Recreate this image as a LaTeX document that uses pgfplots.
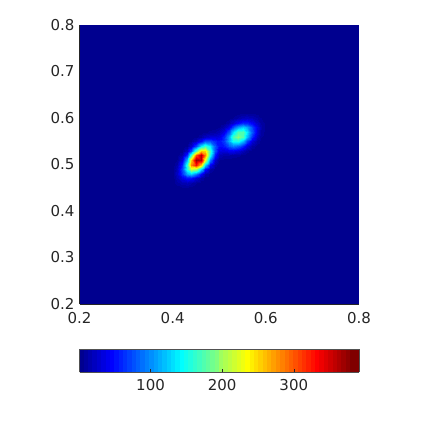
\documentclass[border=0pt]{standalone}
\usepackage{pgfplots}
\pgfplotsset{compat=1.18}
\usepackage{fontspec}
\setmainfont{DejaVu Sans}
\definecolor{axgray}{RGB}{38,38,38}
\pgfplotsset{colormap={mjet}{
rgb=(0,0,0.5625) rgb=(0,0,0.625) rgb=(0,0,0.6875) rgb=(0,0,0.75) rgb=(0,0,0.8125) rgb=(0,0,0.875) rgb=(0,0,0.9375) rgb=(0,0,1)
rgb=(0,0.0625,1) rgb=(0,0.125,1) rgb=(0,0.1875,1) rgb=(0,0.25,1) rgb=(0,0.3125,1) rgb=(0,0.375,1) rgb=(0,0.4375,1) rgb=(0,0.5,1)
rgb=(0,0.5625,1) rgb=(0,0.625,1) rgb=(0,0.6875,1) rgb=(0,0.75,1) rgb=(0,0.8125,1) rgb=(0,0.875,1) rgb=(0,0.9375,1) rgb=(0,1,1)
rgb=(0.0625,1,0.9375) rgb=(0.125,1,0.875) rgb=(0.1875,1,0.8125) rgb=(0.25,1,0.75) rgb=(0.3125,1,0.6875) rgb=(0.375,1,0.625) rgb=(0.4375,1,0.5625) rgb=(0.5,1,0.5)
rgb=(0.5625,1,0.4375) rgb=(0.625,1,0.375) rgb=(0.6875,1,0.3125) rgb=(0.75,1,0.25) rgb=(0.8125,1,0.1875) rgb=(0.875,1,0.125) rgb=(0.9375,1,0.0625) rgb=(1,1,0)
rgb=(1,0.9375,0) rgb=(1,0.875,0) rgb=(1,0.8125,0) rgb=(1,0.75,0) rgb=(1,0.6875,0) rgb=(1,0.625,0) rgb=(1,0.5625,0) rgb=(1,0.5,0)
rgb=(1,0.4375,0) rgb=(1,0.375,0) rgb=(1,0.3125,0) rgb=(1,0.25,0) rgb=(1,0.1875,0) rgb=(1,0.125,0) rgb=(1,0.0625,0) rgb=(1,0,0)
rgb=(0.9375,0,0) rgb=(0.875,0,0) rgb=(0.8125,0,0) rgb=(0.75,0,0) rgb=(0.6875,0,0) rgb=(0.625,0,0) rgb=(0.5625,0,0) rgb=(0.5,0,0)
rgb=(0.5,0,0)}}
\begin{document}
\begin{tikzpicture}
\path[use as bounding box] (0,0) rectangle (423bp,423bp);
\begin{axis}[
  at={(79.5bp,119bp)}, anchor=south west,
  width=279.5bp, height=279bp, scale only axis,
  xmin=0.2, xmax=0.8, ymin=0.2, ymax=0.8,
  xtick={0.2,0.4,0.6,0.8}, ytick={0.2,0.3,0.4,0.5,0.6,0.7,0.8},
  axis lines*=left, axis on top,
  axis line style={draw=axgray, line width=0.5pt},
  major tick length=0pt,
  tick label style={font=\fontsize{15bp}{18bp}\selectfont, text=axgray},
  xticklabel style={yshift=-4.5bp},
  yticklabel style={xshift=-1.5bp},
  /pgf/number format/assume math mode=true,
  /pgf/number format/fixed, /pgf/number format/precision=1,
  colormap name=mjet, colormap access=piecewise constant,
  point meta min=0.8, point meta max=391,
  colorbar horizontal, colorbar sampled,
  colorbar style={at={(parent axis.south west)}, anchor=north west, yshift=-36.7bp,
    width=279.5bp, height=22.6bp, scale only axis, samples=65,
    colormap access=piecewise constant,
    xtick={100,200,300}, xtick pos=bottom, xticklabel pos=lower,
    xtick align=inside, major tick length=3bp,
    tick style={draw=axgray, line width=0.5pt},
    axis line style={draw=axgray!80, line width=0.4pt},
    tick label style={font=\fontsize{15bp}{18bp}\selectfont, text=axgray},
    xticklabel style={yshift=-4.5bp},
    /pgf/number format/assume math mode=true},
]
\addplot[surf, shader=interp, mesh/cols=25, point meta=explicit] table[meta=z, row sep=\\] {
x y z\\
0.2 0.2 0\\ 0.39 0.2 0\\ 0.40 0.2 0\\ 0.41 0.2 0\\ 0.42 0.2 0\\ 0.43 0.2 0\\ 0.44 0.2 0\\ 0.45 0.2 0\\ 0.46 0.2 0\\ 0.47 0.2 0\\ 0.48 0.2 0\\ 0.49 0.2 0\\ 0.50 0.2 0\\ 0.51 0.2 0\\ 0.52 0.2 0\\ 0.53 0.2 0\\ 0.54 0.2 0\\ 0.55 0.2 0\\ 0.56 0.2 0\\ 0.57 0.2 0\\ 0.58 0.2 0\\ 0.59 0.2 0\\ 0.60 0.2 0\\ 0.61 0.2 0\\ 0.8 0.2 0\\
0.2 0.44 0\\ 0.39 0.44 0\\ 0.40 0.44 0\\ 0.41 0.44 0\\ 0.42 0.44 0\\ 0.43 0.44 0\\ 0.44 0.44 0\\ 0.45 0.44 0\\ 0.46 0.44 0\\ 0.47 0.44 0\\ 0.48 0.44 0\\ 0.49 0.44 0\\ 0.50 0.44 0\\ 0.51 0.44 0\\ 0.52 0.44 0\\ 0.53 0.44 0\\ 0.54 0.44 0\\ 0.55 0.44 0\\ 0.56 0.44 0\\ 0.57 0.44 0\\ 0.58 0.44 0\\ 0.59 0.44 0\\ 0.60 0.44 0\\ 0.61 0.44 0\\ 0.8 0.44 0\\
0.2 0.45 0\\ 0.39 0.45 0\\ 0.40 0.45 2\\ 0.41 0.45 4\\ 0.42 0.45 5\\ 0.43 0.45 5\\ 0.44 0.45 3\\ 0.45 0.45 0\\ 0.46 0.45 0\\ 0.47 0.45 0\\ 0.48 0.45 0\\ 0.49 0.45 0\\ 0.50 0.45 0\\ 0.51 0.45 0\\ 0.52 0.45 0\\ 0.53 0.45 0\\ 0.54 0.45 0\\ 0.55 0.45 0\\ 0.56 0.45 0\\ 0.57 0.45 0\\ 0.58 0.45 0\\ 0.59 0.45 0\\ 0.60 0.45 0\\ 0.61 0.45 0\\ 0.8 0.45 0\\
0.2 0.46 0\\ 0.39 0.46 1\\ 0.40 0.46 4\\ 0.41 0.46 10\\ 0.42 0.46 17\\ 0.43 0.46 19\\ 0.44 0.46 14\\ 0.45 0.46 7\\ 0.46 0.46 2\\ 0.47 0.46 0\\ 0.48 0.46 0\\ 0.49 0.46 0\\ 0.50 0.46 0\\ 0.51 0.46 0\\ 0.52 0.46 0\\ 0.53 0.46 0\\ 0.54 0.46 0\\ 0.55 0.46 0\\ 0.56 0.46 0\\ 0.57 0.46 0\\ 0.58 0.46 0\\ 0.59 0.46 0\\ 0.60 0.46 0\\ 0.61 0.46 0\\ 0.8 0.46 0\\
0.2 0.47 0\\ 0.39 0.47 1\\ 0.40 0.47 6\\ 0.41 0.47 18\\ 0.42 0.47 38\\ 0.43 0.47 53\\ 0.44 0.47 49\\ 0.45 0.47 30\\ 0.46 0.47 12\\ 0.47 0.47 3\\ 0.48 0.47 0\\ 0.49 0.47 0\\ 0.50 0.47 0\\ 0.51 0.47 0\\ 0.52 0.47 0\\ 0.53 0.47 0\\ 0.54 0.47 0\\ 0.55 0.47 0\\ 0.56 0.47 0\\ 0.57 0.47 0\\ 0.58 0.47 0\\ 0.59 0.47 0\\ 0.60 0.47 0\\ 0.61 0.47 0\\ 0.8 0.47 0\\
0.2 0.48 0\\ 0.39 0.48 1\\ 0.40 0.48 6\\ 0.41 0.48 24\\ 0.42 0.48 62\\ 0.43 0.48 108\\ 0.44 0.48 123\\ 0.45 0.48 93\\ 0.46 0.48 46\\ 0.47 0.48 15\\ 0.48 0.48 3\\ 0.49 0.48 0\\ 0.50 0.48 0\\ 0.51 0.48 0\\ 0.52 0.48 0\\ 0.53 0.48 0\\ 0.54 0.48 0\\ 0.55 0.48 0\\ 0.56 0.48 0\\ 0.57 0.48 0\\ 0.58 0.48 0\\ 0.59 0.48 0\\ 0.60 0.48 0\\ 0.61 0.48 0\\ 0.8 0.48 0\\
0.2 0.49 0\\ 0.39 0.49 1\\ 0.40 0.49 4\\ 0.41 0.49 22\\ 0.42 0.49 72\\ 0.43 0.49 155\\ 0.44 0.49 221\\ 0.45 0.49 208\\ 0.46 0.49 129\\ 0.47 0.49 53\\ 0.48 0.49 14\\ 0.49 0.49 3\\ 0.50 0.49 0\\ 0.51 0.49 0\\ 0.52 0.49 0\\ 0.53 0.49 0\\ 0.54 0.49 0\\ 0.55 0.49 0\\ 0.56 0.49 0\\ 0.57 0.49 0\\ 0.58 0.49 0\\ 0.59 0.49 0\\ 0.60 0.49 0\\ 0.61 0.49 0\\ 0.8 0.49 0\\
0.2 0.50 0\\ 0.39 0.50 0\\ 0.40 0.50 2\\ 0.41 0.50 14\\ 0.42 0.50 59\\ 0.43 0.50 159\\ 0.44 0.50 283\\ 0.45 0.50 331\\ 0.46 0.50 255\\ 0.47 0.50 130\\ 0.48 0.50 44\\ 0.49 0.50 10\\ 0.50 0.50 1\\ 0.51 0.50 0\\ 0.52 0.50 0\\ 0.53 0.50 0\\ 0.54 0.50 0\\ 0.55 0.50 0\\ 0.56 0.50 0\\ 0.57 0.50 0\\ 0.58 0.50 0\\ 0.59 0.50 0\\ 0.60 0.50 0\\ 0.61 0.50 0\\ 0.8 0.50 0\\
0.2 0.51 0\\ 0.39 0.51 0\\ 0.40 0.51 1\\ 0.41 0.51 7\\ 0.42 0.51 35\\ 0.43 0.51 116\\ 0.44 0.51 257\\ 0.45 0.51 375\\ 0.46 0.51 361\\ 0.47 0.51 229\\ 0.48 0.51 96\\ 0.49 0.51 27\\ 0.50 0.51 7\\ 0.51 0.51 4\\ 0.52 0.51 3\\ 0.53 0.51 3\\ 0.54 0.51 2\\ 0.55 0.51 1\\ 0.56 0.51 0\\ 0.57 0.51 0\\ 0.58 0.51 0\\ 0.59 0.51 0\\ 0.60 0.51 0\\ 0.61 0.51 0\\ 0.8 0.51 0\\
0.2 0.52 0\\ 0.39 0.52 0\\ 0.40 0.52 0\\ 0.41 0.52 2\\ 0.42 0.52 15\\ 0.43 0.52 61\\ 0.44 0.52 167\\ 0.45 0.52 303\\ 0.46 0.52 363\\ 0.47 0.52 286\\ 0.48 0.52 150\\ 0.49 0.52 55\\ 0.50 0.52 19\\ 0.51 0.52 13\\ 0.52 0.52 13\\ 0.53 0.52 12\\ 0.54 0.52 9\\ 0.55 0.52 5\\ 0.56 0.52 2\\ 0.57 0.52 1\\ 0.58 0.52 0\\ 0.59 0.52 0\\ 0.60 0.52 0\\ 0.61 0.52 0\\ 0.8 0.52 0\\
0.2 0.53 0\\ 0.39 0.53 0\\ 0.40 0.53 0\\ 0.41 0.53 1\\ 0.42 0.53 4\\ 0.43 0.53 23\\ 0.44 0.53 77\\ 0.45 0.53 174\\ 0.46 0.53 260\\ 0.47 0.53 256\\ 0.48 0.53 168\\ 0.49 0.53 78\\ 0.50 0.53 36\\ 0.51 0.53 32\\ 0.52 0.53 39\\ 0.53 0.53 40\\ 0.54 0.53 32\\ 0.55 0.53 20\\ 0.56 0.53 9\\ 0.57 0.53 3\\ 0.58 0.53 1\\ 0.59 0.53 0\\ 0.60 0.53 0\\ 0.61 0.53 0\\ 0.8 0.53 0\\
0.2 0.54 0\\ 0.39 0.54 0\\ 0.40 0.54 0\\ 0.41 0.54 0\\ 0.42 0.54 1\\ 0.43 0.54 6\\ 0.44 0.54 25\\ 0.45 0.54 72\\ 0.46 0.54 133\\ 0.47 0.54 163\\ 0.48 0.54 134\\ 0.49 0.54 79\\ 0.50 0.54 49\\ 0.51 0.54 56\\ 0.52 0.54 79\\ 0.53 0.54 92\\ 0.54 0.54 83\\ 0.55 0.54 58\\ 0.56 0.54 31\\ 0.57 0.54 12\\ 0.58 0.54 4\\ 0.59 0.54 1\\ 0.60 0.54 0\\ 0.61 0.54 0\\ 0.8 0.54 0\\
0.2 0.55 0\\ 0.39 0.55 0\\ 0.40 0.55 0\\ 0.41 0.55 0\\ 0.42 0.55 0\\ 0.43 0.55 1\\ 0.44 0.55 6\\ 0.45 0.55 21\\ 0.46 0.55 48\\ 0.47 0.55 74\\ 0.48 0.55 76\\ 0.49 0.55 58\\ 0.50 0.55 49\\ 0.51 0.55 69\\ 0.52 0.55 112\\ 0.53 0.55 148\\ 0.54 0.55 152\\ 0.55 0.55 119\\ 0.56 0.55 71\\ 0.57 0.55 33\\ 0.58 0.55 12\\ 0.59 0.55 3\\ 0.60 0.55 1\\ 0.61 0.55 0\\ 0.8 0.55 0\\
0.2 0.56 0\\ 0.39 0.56 0\\ 0.40 0.56 0\\ 0.41 0.56 0\\ 0.42 0.56 0\\ 0.43 0.56 0\\ 0.44 0.56 1\\ 0.45 0.56 4\\ 0.46 0.56 12\\ 0.47 0.56 24\\ 0.48 0.56 31\\ 0.49 0.56 31\\ 0.50 0.56 35\\ 0.51 0.56 60\\ 0.52 0.56 111\\ 0.53 0.56 167\\ 0.54 0.56 193\\ 0.55 0.56 172\\ 0.56 0.56 117\\ 0.57 0.56 61\\ 0.58 0.56 24\\ 0.59 0.56 7\\ 0.60 0.56 2\\ 0.61 0.56 0\\ 0.8 0.56 0\\
0.2 0.57 0\\ 0.39 0.57 0\\ 0.40 0.57 0\\ 0.41 0.57 0\\ 0.42 0.57 0\\ 0.43 0.57 0\\ 0.44 0.57 0\\ 0.45 0.57 1\\ 0.46 0.57 2\\ 0.47 0.57 5\\ 0.48 0.57 9\\ 0.49 0.57 12\\ 0.50 0.57 18\\ 0.51 0.57 37\\ 0.52 0.57 77\\ 0.53 0.57 131\\ 0.54 0.57 172\\ 0.55 0.57 174\\ 0.56 0.57 134\\ 0.57 0.57 79\\ 0.58 0.57 36\\ 0.59 0.57 12\\ 0.60 0.57 3\\ 0.61 0.57 1\\ 0.8 0.57 0\\
0.2 0.58 0\\ 0.39 0.58 0\\ 0.40 0.58 0\\ 0.41 0.58 0\\ 0.42 0.58 0\\ 0.43 0.58 0\\ 0.44 0.58 0\\ 0.45 0.58 0\\ 0.46 0.58 0\\ 0.47 0.58 1\\ 0.48 0.58 2\\ 0.49 0.58 3\\ 0.50 0.58 6\\ 0.51 0.58 16\\ 0.52 0.58 37\\ 0.53 0.58 72\\ 0.54 0.58 108\\ 0.55 0.58 123\\ 0.56 0.58 107\\ 0.57 0.58 72\\ 0.58 0.58 37\\ 0.59 0.58 14\\ 0.60 0.58 4\\ 0.61 0.58 1\\ 0.8 0.58 0\\
0.2 0.59 0\\ 0.39 0.59 0\\ 0.40 0.59 0\\ 0.41 0.59 0\\ 0.42 0.59 0\\ 0.43 0.59 0\\ 0.44 0.59 0\\ 0.45 0.59 0\\ 0.46 0.59 0\\ 0.47 0.59 0\\ 0.48 0.59 0\\ 0.49 0.59 0\\ 0.50 0.59 1\\ 0.51 0.59 4\\ 0.52 0.59 13\\ 0.53 0.59 28\\ 0.54 0.59 47\\ 0.55 0.59 61\\ 0.56 0.59 60\\ 0.57 0.59 45\\ 0.58 0.59 26\\ 0.59 0.59 12\\ 0.60 0.59 4\\ 0.61 0.59 1\\ 0.8 0.59 0\\
0.2 0.60 0\\ 0.39 0.60 0\\ 0.40 0.60 0\\ 0.41 0.60 0\\ 0.42 0.60 0\\ 0.43 0.60 0\\ 0.44 0.60 0\\ 0.45 0.60 0\\ 0.46 0.60 0\\ 0.47 0.60 0\\ 0.48 0.60 0\\ 0.49 0.60 0\\ 0.50 0.60 0\\ 0.51 0.60 1\\ 0.52 0.60 3\\ 0.53 0.60 8\\ 0.54 0.60 14\\ 0.55 0.60 21\\ 0.56 0.60 24\\ 0.57 0.60 20\\ 0.58 0.60 13\\ 0.59 0.60 7\\ 0.60 0.60 3\\ 0.61 0.60 1\\ 0.8 0.60 0\\
0.2 0.61 0\\ 0.39 0.61 0\\ 0.40 0.61 0\\ 0.41 0.61 0\\ 0.42 0.61 0\\ 0.43 0.61 0\\ 0.44 0.61 0\\ 0.45 0.61 0\\ 0.46 0.61 0\\ 0.47 0.61 0\\ 0.48 0.61 0\\ 0.49 0.61 0\\ 0.50 0.61 0\\ 0.51 0.61 0\\ 0.52 0.61 0\\ 0.53 0.61 1\\ 0.54 0.61 3\\ 0.55 0.61 5\\ 0.56 0.61 6\\ 0.57 0.61 6\\ 0.58 0.61 5\\ 0.59 0.61 3\\ 0.60 0.61 1\\ 0.61 0.61 0\\ 0.8 0.61 0\\
0.2 0.62 0\\ 0.39 0.62 0\\ 0.40 0.62 0\\ 0.41 0.62 0\\ 0.42 0.62 0\\ 0.43 0.62 0\\ 0.44 0.62 0\\ 0.45 0.62 0\\ 0.46 0.62 0\\ 0.47 0.62 0\\ 0.48 0.62 0\\ 0.49 0.62 0\\ 0.50 0.62 0\\ 0.51 0.62 0\\ 0.52 0.62 0\\ 0.53 0.62 0\\ 0.54 0.62 0\\ 0.55 0.62 1\\ 0.56 0.62 1\\ 0.57 0.62 1\\ 0.58 0.62 1\\ 0.59 0.62 0\\ 0.60 0.62 0\\ 0.61 0.62 0\\ 0.8 0.62 0\\
0.2 0.8 0\\ 0.39 0.8 0\\ 0.40 0.8 0\\ 0.41 0.8 0\\ 0.42 0.8 0\\ 0.43 0.8 0\\ 0.44 0.8 0\\ 0.45 0.8 0\\ 0.46 0.8 0\\ 0.47 0.8 0\\ 0.48 0.8 0\\ 0.49 0.8 0\\ 0.50 0.8 0\\ 0.51 0.8 0\\ 0.52 0.8 0\\ 0.53 0.8 0\\ 0.54 0.8 0\\ 0.55 0.8 0\\ 0.56 0.8 0\\ 0.57 0.8 0\\ 0.58 0.8 0\\ 0.59 0.8 0\\ 0.60 0.8 0\\ 0.61 0.8 0\\ 0.8 0.8 0\\
};
\end{axis}
\end{tikzpicture}
\end{document}
